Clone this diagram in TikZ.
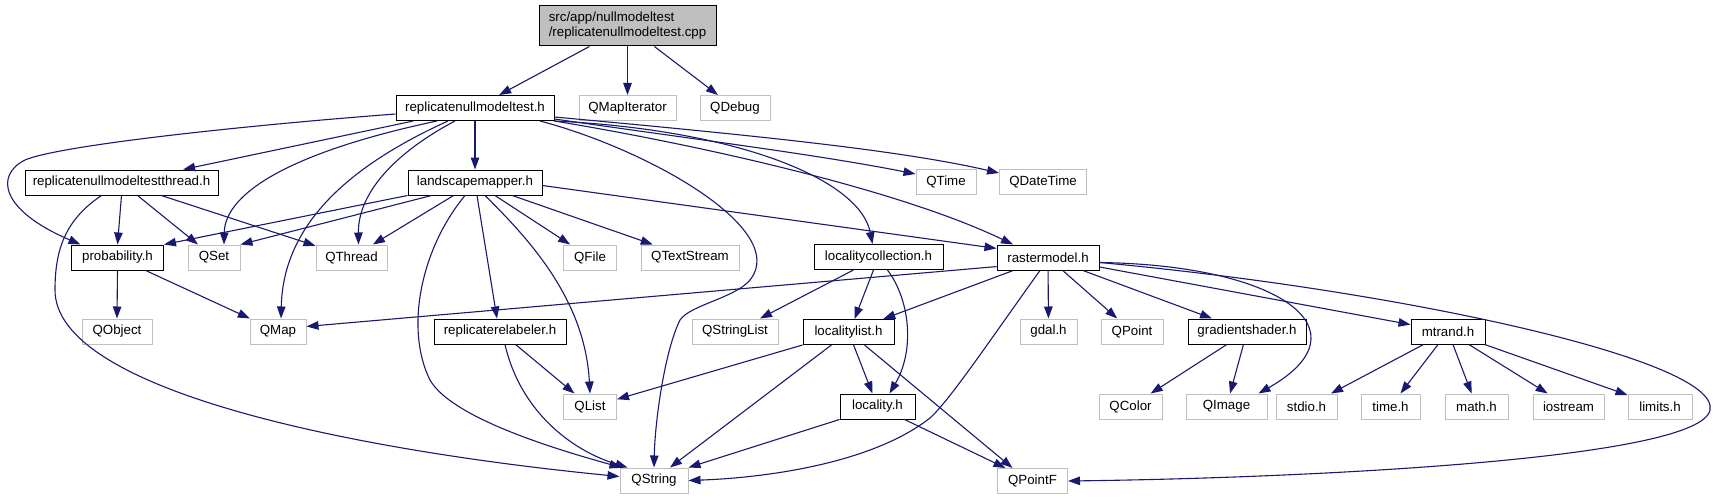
\documentclass[tikz,border=0pt]{standalone}
\usepackage{fontspec}
\setmainfont{Liberation Sans}
\usetikzlibrary{arrows.meta}
\definecolor{edgeblue}{HTML}{191970}
\definecolor{extgray}{HTML}{BFBFBF}
\definecolor{mainfill}{HTML}{BFBFBF}
\newcommand\dgfont{\fontsize{13.3}{15}\selectfont}
\tikzset{
  doc/.style={draw=black, line width=1pt, fill=white, inner sep=0pt, minimum height=25pt, font=\dgfont},
  ext/.style={draw=extgray, line width=1pt, fill=white, inner sep=0pt, minimum height=25pt, font=\dgfont},
  dep/.style={draw=edgeblue, line width=1.1pt, -{Triangle[length=12pt,width=8.5pt]}}
}
\begin{document}
\begin{tikzpicture}[x=1pt,y=-1pt]
\useasboundingbox[fill=white] (0,0) rectangle (1720,500);
% row 1
\node[doc, fill=mainfill, minimum width=177, minimum height=40, align=left] (main) at (627.5,26) {src/app/nullmodeltest\\/replicatenullmodeltest.cpp};
% row 2
\node[doc, minimum width=158] (rt) at (475,108) {replicatenullmodeltest.h};
\node[ext, minimum width=97] (qmi) at (627.5,108) {QMapIterator};
\node[ext, minimum width=70] (qdbg) at (735,108) {QDebug};
% row 3
\node[doc, minimum width=193] (thr) at (121.5,182.5) {replicatenullmodeltestthread.h};
\node[doc, minimum width=134] (lm) at (475,182.5) {landscapemapper.h};
\node[ext, minimum width=60] (qtime) at (946,182) {QTime};
\node[ext, minimum width=87] (qdt) at (1043,182) {QDateTime};
% row 4
\node[doc, minimum width=92] (prob) at (117.5,257.5) {probability.h};
\node[ext, minimum width=52] (qset) at (214,257.5) {QSet};
\node[ext, minimum width=71] (qthr) at (351.5,257.5) {QThread};
\node[ext, minimum width=53] (qfile) at (590,257.5) {QFile};
\node[ext, minimum width=98] (qts) at (690,257.5) {QTextStream};
\node[doc, minimum width=129] (lc) at (878.5,257) {localitycollection.h};
\node[doc, minimum width=102] (rm) at (1048,257.5) {rastermodel.h};
% row 5
\node[ext, minimum width=70] (qobj) at (117,331.5) {QObject};
\node[ext, minimum width=56] (qmap) at (278,331.5) {QMap};
\node[doc, minimum width=132] (rr) at (500,331.5) {replicaterelabeler.h};
\node[ext, minimum width=86] (qsl) at (735,331.5) {QStringList};
\node[doc, minimum width=91] (ll) at (848.5,332) {localitylist.h};
\node[ext, minimum width=57] (gdal) at (1048.5,331.5) {gdal.h};
\node[ext, minimum width=62] (qpt) at (1132,331.5) {QPoint};
\node[doc, minimum width=118] (gs) at (1247,331.5) {gradientshader.h};
\node[doc, minimum width=74] (mt) at (1448,331.5) {mtrand.h};
% row 6
\node[ext, minimum width=53] (qlist) at (590,406.5) {QList};
\node[doc, minimum width=75] (loc) at (877.5,406.5) {locality.h};
\node[ext, minimum width=63] (qcol) at (1130.5,406.5) {QColor};
\node[ext, minimum width=81] (qimg) at (1226.5,406.5) {QImage};
\node[ext, minimum width=61] (stdio) at (1306.5,406.5) {stdio.h};
\node[ext, minimum width=59] (timeh) at (1390.5,406.5) {time.h};
\node[ext, minimum width=63] (mathh) at (1476.5,406.5) {math.h};
\node[ext, minimum width=71] (ios) at (1568.5,406.5) {iostream};
\node[ext, minimum width=64] (lim) at (1660,406.5) {limits.h};
% row 7
\node[ext, minimum width=68] (qs) at (654,480.5) {QString};
\node[ext, minimum width=70] (qpf) at (1032.5,481) {QPointF};

% main
\draw[dep] (main) -- (rt);
\draw[dep] (main) -- (qmi);
\draw[dep] (main) -- (qdbg);
% replicatenullmodeltest.h
\draw[dep] ([yshift=-6]rt.west) .. controls (250,125) and (60,145) .. (25,160) .. controls (-5,175) and (0,210) .. ([xshift=-37]prob.north);
\draw[dep] (rt) -- (thr);
\draw[dep] ([xshift=-38]rt.south) .. controls (300,150) and (225,190) .. ([xshift=10]qset.north);
\draw[dep] ([xshift=-27]rt.south) .. controls (340,170) and (283,230) .. ([xshift=3]qmap.north);
\draw[dep] ([xshift=-20]rt.south) .. controls (400,150) and (358,190) .. ([xshift=7]qthr.north);
\draw[dep] (rt) -- (lm);
\draw[dep] ([xshift=65]rt.south) .. controls (650,150) and (790,230) .. (750,280) .. controls (735,298) and (690,305) .. (680,320) .. controls (665,350) and (655,420) .. (qs.north);
\draw[dep] (rt.south east) .. controls (740,130) and (860,180) .. ([xshift=-6]lc.north);
\draw[dep] (rt.south east) .. controls (700,145) and (900,190) .. ([xshift=-35]rm.north);
\draw[dep] ([yshift=2]rt.south east) .. controls (700,140) and (820,155) .. ([yshift=8]qtime.west);
\draw[dep] ([yshift=4]rt.south east) .. controls (750,135) and (900,150) .. ([yshift=9]qdt.west);
% replicatenullmodeltestthread.h
\draw[dep] (thr.south) -- (prob.north);
\draw[dep] (thr) -- (qset);
\draw[dep] (thr) -- (qthr);
\draw[dep] ([xshift=-20]thr.south) .. controls (65,220) and (55,250) .. (55,290) .. controls (55,390) and (350,450) .. ([yshift=4]qs.west);
% landscapemapper.h
\draw[dep] (lm.south west) -- (prob.north east);
\draw[dep] ([xshift=24]lm.south west) -- (qset.north east);
\draw[dep] (lm) -- (qthr);
\draw[dep] ([xshift=-10]lm.south) .. controls (420,250) and (405,330) .. (430,380) .. controls (450,415) and (540,445) .. ([xshift=2]qs.north west);
\draw[dep] ([xshift=2]lm.south) -- ([xshift=-3]rr.north);
\draw[dep] ([xshift=10]lm.south) .. controls (530,240) and (585,300) .. (qlist.north);
\draw[dep] (lm) -- (qfile);
\draw[dep] (lm) -- (qts);
\draw[dep] ([yshift=-3]lm.east) -- (rm.170);
% probability.h
\draw[dep] (prob.south) -- (qobj.north);
\draw[dep] (prob) -- (qmap);
% localitycollection.h
\draw[dep] (lc) -- (qsl);
\draw[dep] ([xshift=-5]lc.south) -- ([xshift=6]ll.north);
\draw[dep] ([xshift=9]lc.south) .. controls (910,300) and (915,350) .. ([xshift=12]loc.north);
% rastermodel.h
\draw[dep] (rm.190) -- (qmap.10);
\draw[dep] (rm) -- (ll);
\draw[dep] ([xshift=-8]rm.south) .. controls (990,340) and (950,400) .. (930,418) .. controls (870,465) and (760,478) .. (qs.east);
\draw[dep] (rm) -- (gdal);
\draw[dep] (rm) -- (qpt);
\draw[dep] (rm) -- (gs);
\draw[dep] ([yshift=-5]rm.east) .. controls (1280,265) and (1370,330) .. ([xshift=32]qimg.north);
\draw[dep] (rm) -- (mt);
\draw[dep] ([yshift=-5]rm.east) .. controls (1400,290) and (1720,360) .. (1710,410) .. controls (1700,460) and (1300,478) .. (qpf.east);
% replicaterelabeler.h
\draw[dep] (rr) -- (qlist);
\draw[dep] ([xshift=5]rr.south) .. controls (520,410) and (570,450) .. ([xshift=8]qs.north west);
% localitylist.h
\draw[dep] (ll.south west) -- (qlist.15);
\draw[dep] (ll) -- ([xshift=16]qs.north);
\draw[dep] (ll) -- (loc);
\draw[dep] ([xshift=16]ll.south) -- ([xshift=-20]qpf.north);
% locality.h
\draw[dep] (loc.south west) -- (qs.north east);
\draw[dep] (loc) -- (qpf);
% gradientshader.h
\draw[dep] (gs) -- (qcol);
\draw[dep] (gs) -- (qimg);
% mtrand.h
\draw[dep] (mt) -- (stdio);
\draw[dep] (mt) -- (timeh);
\draw[dep] (mt) -- (mathh);
\draw[dep] (mt) -- (ios);
\draw[dep] (mt) -- (lim);
\end{tikzpicture}
\end{document}
